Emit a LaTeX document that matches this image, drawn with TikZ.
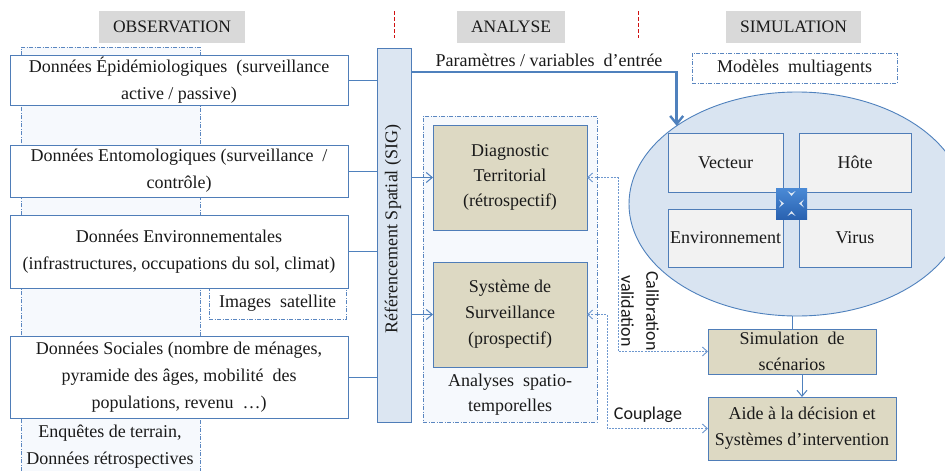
\documentclass[tikz,border=0pt]{standalone}
\usepackage{fontspec}
\setmainfont{Liberation Serif}
\newfontfamily\calibfont{Carlito}
\usetikzlibrary{arrows.meta,shapes.geometric}
\definecolor{boxblue}{HTML}{4F7DB8}
\definecolor{lineblue}{HTML}{4F81BD}
\definecolor{dotblue}{HTML}{6E98CF}
\definecolor{panelblue}{HTML}{5A86C0}
\definecolor{panelfill}{HTML}{F6F9FD}
\definecolor{sigfill}{HTML}{DCE6F2}
\definecolor{ellfill}{HTML}{D9E4F1}
\definecolor{tanfill}{HTML}{DDD9C3}
\definecolor{igray}{HTML}{F2F2F2}
\definecolor{hgray}{HTML}{D9D9D9}
\definecolor{txt}{HTML}{1A1A1A}
\definecolor{sepred}{HTML}{D01010}
\definecolor{iconA}{HTML}{4A8AD6}
\definecolor{iconB}{HTML}{2A62B0}
\newcommand\myfs{\fontsize{18}{27}\selectfont}
\newcommand\myhfs{\fontsize{17.5}{21}\selectfont}
\begin{document}
\begin{tikzpicture}[x=1pt,y=-1pt,
 lbox/.style={draw=boxblue, fill=white, line width=0.9pt, inner sep=0pt, outer sep=0pt, align=center, font=\myfs, text=txt},
 tbox/.style={lbox, fill=tanfill},
 ibox/.style={lbox, fill=igray},
 head/.style={fill=hgray, inner sep=0pt, outer sep=0pt, font=\myhfs, text=txt},
 panel/.style={draw=panelblue, line width=0.7pt, dash pattern=on 4pt off 1.5pt on 1pt off 1.5pt},
 conn/.style={draw=lineblue, line width=1pt},
 arr/.style={conn, -{Straight Barb[length=6pt,width=10pt]}},
 bigarr/.style={draw=lineblue, line width=2.4pt, -{Straight Barb[length=8pt,width=13pt]}},
 dotarr/.style={draw=dotblue, line width=0.9pt, dash pattern=on 2pt off 1.2pt, {Straight Barb[length=5pt,width=9pt]}-{Straight Barb[length=5pt,width=9pt]}},
 plain/.style={inner sep=0pt, outer sep=0pt, align=center, font=\myfs, text=txt},
 sepline/.style={draw=sepred, line width=1pt, dash pattern=on 4pt off 2pt}
]
\useasboundingbox (0,0) rectangle (945,471);
\fill[white] (0,0) rectangle (945,471);

% headers
\node[head, minimum width=146pt, minimum height=32pt] (hobs) at (172,27) {OBSERVATION};
\node[head, minimum width=108pt, minimum height=32pt] (hana) at (511,27) {ANALYSE};
\node[head, minimum width=135pt, minimum height=32pt] (hsim) at (793.5,27) {SIMULATION};
\draw[sepline] (394,11) -- (394,38);
\draw[sepline] (638,11) -- (638,38);

% left panel
\fill[panelfill] (21,47) rectangle (200,471);
\draw[panel] (21,471) -- (21,47) -- (200,47) -- (200,471);

% images satellite
\node[plain, panel, fill=white, minimum width=137pt, minimum height=31pt] (sat) at (277.5,303.5) {Images\ \ satellite};

% left boxes
\node[lbox, minimum width=338pt, minimum height=50pt] (epi) at (179,80) {Données Épidémiologiques\ \ (surveillance\\active / passive)};
\node[lbox, minimum width=338pt, minimum height=52pt] (ento) at (179,171) {Données Entomologiques (surveillance\ \ /\\contrôle)};
\node[lbox, minimum width=338pt, minimum height=73pt] (env) at (179,251.5) {Données Environnementales\\(infrastructures,\ occupations du sol, climat)};
\node[lbox, minimum width=338pt, minimum height=82pt] (soc) at (179,377) {Données Sociales (nombre de ménages,\\pyramide des âges, mobilité\ \ des\\populations, revenu\ \ …)};
\node[plain] (enq) at (110,446.5) {Enquêtes de terrain,\\Données rétrospectives};

% SIG bar
\node[draw=boxblue, fill=sigfill, line width=0.9pt, inner sep=0pt, outer sep=0pt, minimum width=34pt, minimum height=374pt] (sig) at (394,235) {};
\node[plain, rotate=90] (siglab) at (393,229) {Référencement Spatial (SIG)};

\draw[conn] (epi.east) -- (epi.east -| sig.west);
\draw[conn] (ento.east) -- (ento.east -| sig.west);
\draw[conn] (env.east) -- (env.east -| sig.west);
\draw[conn] (soc.east) -- (soc.east -| sig.west);

% analyse panel
\node[panel, fill=panelfill, inner sep=0pt, outer sep=0pt, minimum width=174pt, minimum height=306pt] (anapanel) at (510,269) {};
\node[tbox, minimum width=154pt, minimum height=105pt] (diag) at (510,177.5) {Diagnostic\\[-2pt]Territorial\\[-2pt](rétrospectif)};
\node[tbox, minimum width=154pt, minimum height=105pt] (surv) at (510,314.5) {Système de\\[-1pt]Surveillance\\[-1pt](prospectif)};
\node[plain, font=\fontsize{18}{25}\selectfont] (anat) at (510,394.5) {Analyses\ \ spatio-\\temporelles};

\draw[arr] (sig.east |- diag.west) -- (diag.west);
\draw[arr] (sig.east |- surv.west) -- (surv.west);

% simulation
\node[plain, panel, fill=white, minimum width=205pt, minimum height=30pt] (multi) at (794.5,68) {Modèles\ \ multiagents};
\node[ellipse, draw=lineblue, fill=ellfill, line width=0.9pt, inner sep=0pt, outer sep=0pt, minimum width=336pt, minimum height=224pt] (ell) at (797,204) {};
\node[ibox, minimum width=115pt, minimum height=59pt] (vec) at (725.5,162.5) {Vecteur};
\node[ibox, minimum width=112pt, minimum height=59pt] (hote) at (855,162.5) {Hôte};
\node[ibox, minimum width=115pt, minimum height=58pt] (envi) at (725.5,238) {Environnement};
\node[ibox, minimum width=112pt, minimum height=58pt] (virus) at (855,238) {Virus};
\node[top color=iconA, bottom color=iconB, inner sep=0pt, outer sep=0pt, minimum size=31pt] (icon) at (791.5,203.5) {};
\fill[white, opacity=0.85] (icon.north) ++(-4,3) -- ++(4,5) -- ++(4,-5) -- ++(-4,2.5) -- cycle;
\fill[white, opacity=0.85] (icon.south) ++(-4,-3) -- ++(4,-5) -- ++(4,5) -- ++(-4,-2.5) -- cycle;
\fill[white, opacity=0.85] (icon.west) ++(3,-4) -- ++(5,4) -- ++(-5,4) -- ++(2.5,-4) -- cycle;
\fill[white, opacity=0.85] (icon.east) ++(-3,-4) -- ++(-5,4) -- ++(5,4) -- ++(-2.5,-4) -- cycle;

\node[plain] (paramlab) at (549,60) {Paramètres / variables\ \ d’entrée};
\draw[bigarr] (sig.east |- 0,72) -| (ell.147);

\node[tbox, minimum width=168pt, minimum height=45pt, font=\fontsize{18}{26}\selectfont] (sim) at (792,351.5) {Simulation\ \ de\\scénarios};
\node[tbox, minimum width=188pt, minimum height=63pt, font=\fontsize{18}{26}\selectfont] (aide) at (802,428.5) {Aide à la décision et\\Systèmes d’intervention};
\draw[conn] (sim.north) -- (sim.north |- ell.south);
\draw[arr] (sim.south -| aide.north) -- (aide.north);

% dotted links
\draw[dotarr] (diag.east) -- (618,177.5) |- (sim.west);
\draw[dotarr] (surv.east) -- (607,314.5) |- (aide.west);
\node[plain, rotate=-90, font=\calibfont\fontsize{18}{25}\selectfont] (calib) at (640,311) {Calibration\\validation};
\node[plain, font=\calibfont\fontsize{18}{22}\selectfont] (coupl) at (648,415) {Couplage};
\end{tikzpicture}
\end{document}
